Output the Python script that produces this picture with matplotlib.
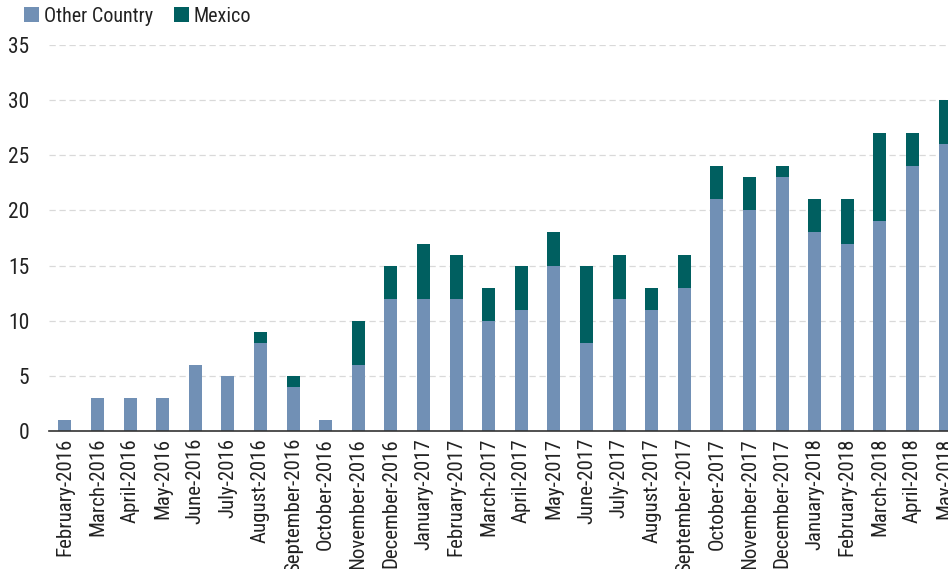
import numpy as np
import matplotlib as mpl
import matplotlib.pyplot as plt
from matplotlib.font_manager import fontManager

names = {f.name for f in fontManager.ttflist}
fam = 'Roboto'
for cand in ['Roboto Condensed', 'Liberation Sans Narrow', 'Open Sans Condensed']:
    if cand in names:
        fam = cand
        break
mpl.rcParams['font.family'] = [fam, 'DejaVu Sans']

months = ['February-2016', 'March-2016', 'April-2016', 'May-2016', 'June-2016',
          'July-2016', 'August-2016', 'September-2016', 'October-2016',
          'November-2016', 'December-2016', 'January-2017', 'February-2017',
          'March-2017', 'April-2017', 'May-2017', 'June-2017', 'July-2017',
          'August-2017', 'September-2017', 'October-2017', 'November-2017',
          'December-2017', 'January-2018', 'February-2018', 'March-2018',
          'April-2018', 'May-2018']
other = [1, 3, 3, 3, 6, 5, 8, 4, 1, 6, 12, 12, 12, 10, 11, 15, 8, 12, 11, 13,
         21, 20, 23, 18, 17, 19, 24, 26]
mexico = [0, 0, 0, 0, 0, 0, 1, 1, 0, 4, 3, 5, 4, 3, 4, 3, 7, 4, 2, 3,
          3, 3, 1, 3, 4, 8, 3, 4]

c_other = '#7190b5'
c_mex = '#005f60'

fig = plt.figure(figsize=(9.48, 5.69), dpi=100)
ax = fig.add_axes([49 / 948, 138 / 569, 1 - 49 / 948, (431 - 45) / 569])

x = np.arange(len(months))
ax.bar(x, other, width=0.4, color=c_other, label='Other Country', zorder=3)
ax.bar(x, mexico, width=0.4, bottom=other, color=c_mex, label='Mexico', zorder=3)

ax.set_xlim(-0.49, 27.09)
ax.set_ylim(0, 35)
ax.set_yticks(range(0, 36, 5))
ax.set_xticks(x)
ax.set_xticklabels(months, rotation=90, fontsize=15, color='#222222')
ax.tick_params(axis='y', labelsize=15.5, labelcolor='#222222', length=0, pad=14)
ax.tick_params(axis='x', length=0, pad=5)

ax.grid(axis='y', color='#d9d9d9', linestyle=(0, (5, 3)), linewidth=0.9, zorder=0)
for s in ['top', 'right', 'left']:
    ax.spines[s].set_visible(False)
ax.spines['bottom'].set_color('#333333')
ax.spines['bottom'].set_linewidth(1.2)
ax.spines['bottom'].set_zorder(4)

fig.legend(loc='upper left', bbox_to_anchor=(6 / 948, 1.02), ncol=2, frameon=False,
           fontsize=14.5, handlelength=0.75, handleheight=0.75, handletextpad=0.25,
           columnspacing=1.0, labelcolor='#222222')

fig.savefig('out.png', dpi=100)
